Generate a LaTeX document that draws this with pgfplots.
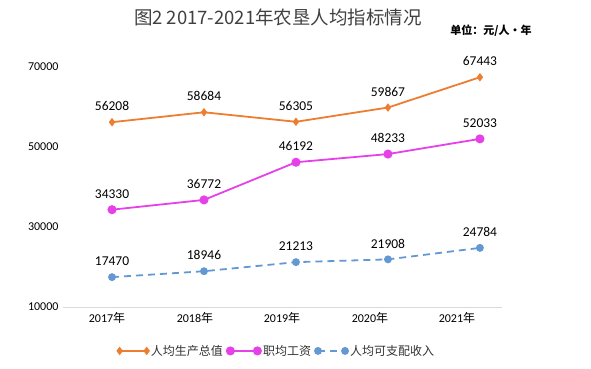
\documentclass[border=0pt]{standalone}
\usepackage{pgfplots}
\pgfplotsset{compat=1.18}
\usepackage{fontspec}
\setmainfont{Carlito}
\newfontfamily\cjk{Noto Sans CJK SC}
\definecolor{cOr}{RGB}{237,125,49}
\definecolor{cMa}{RGB}{230,64,232}
\definecolor{cBl}{RGB}{100,152,210}
\definecolor{cAx}{RGB}{217,217,217}
\begin{document}
\begin{tikzpicture}[x=1pt,y=1pt]
\useasboundingbox (0,0) rectangle (591,368);
\node[font=\cjk\fontsize{18.5}{18.5}\selectfont, text=black!75] at (278,351) {图2 2017-2021年农垦人均指标情况};
\node[font=\cjk\bfseries\fontsize{11}{11}\selectfont] at (491,337) {单位：元/人·年};
\begin{axis}[
  at={(63pt,61pt)}, anchor=south west,
  scale only axis, width=439pt, height=240pt,
  xmin=-0.533, xmax=4.24, ymin=10000, ymax=70000,
  clip=false,
  axis x line*=bottom, axis y line*=left,
  x axis line style={draw=cAx, line width=0.8pt, -},
  y axis line style={draw=none},
  xtick={-0.054,0.902,1.848,2.804,3.75},
  xticklabels={2017{\cjk 年},2018{\cjk 年},2019{\cjk 年},2020{\cjk 年},2021{\cjk 年}},
  ytick={10000,30000,50000,70000},
  scaled y ticks=false,
  yticklabel={\pgfmathprintnumber[fixed,precision=0,1000 sep={}]{\tick}},
  major tick length=0pt,
  /pgf/number format/assume math mode=true,
  /pgf/number format/1000 sep={},
  tick label style={font=\fontsize{12}{12}\selectfont, text=black},
  yticklabel style={xshift=-1pt},
  xticklabel style={yshift=-2pt},
  nodes near coords,
  every node near coord/.append style={font=\fontsize{13.5}{14}\selectfont, text=black, anchor=south, yshift=7pt},
  legend columns=3,
  legend style={draw=none, at={(0.487,-0.183)}, anchor=center, font=\cjk\fontsize{12}{12}\selectfont, text=black!80,
    /tikz/every even column/.append style={column sep=2pt}},
  legend image code/.code={\draw[#1] (0cm,0cm) -- (0.95cm,0cm); \draw[#1,only marks] plot coordinates {(0cm,0cm) (0.95cm,0cm)};},
]
\addplot[color=cOr, line width=1.8pt, mark=diamond*, mark size=2.8pt, mark options={solid}] coordinates {(0,56208) (1,58684) (2,56305) (3,59867) (4,67443)};
\addlegendentry{人均生产总值}
\addplot[color=cMa, line width=1.8pt, mark=*, mark size=3.6pt, mark options={solid}] coordinates {(0,34330) (1,36772) (2,46192) (3,48233) (4,52033)};
\addlegendentry{职均工资}
\addplot[color=cBl, line width=1.8pt, dash pattern=on 7pt off 5pt, mark=*, mark size=3pt, mark options={solid}] coordinates {(0,17470) (1,18946) (2,21213) (3,21908) (4,24784)};
\addlegendentry{人均可支配收入}
\end{axis}
\end{tikzpicture}
\end{document}
